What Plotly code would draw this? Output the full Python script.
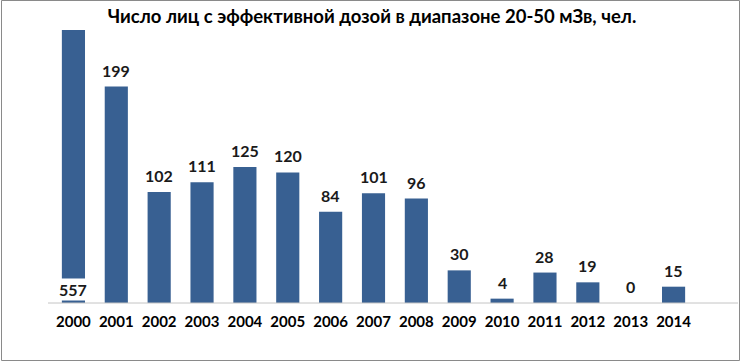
import plotly.graph_objects as go

years = ["2000", "2001", "2002", "2003", "2004", "2005", "2006", "2007", "2008",
         "2009", "2010", "2011", "2012", "2013", "2014"]
persons = [557, 199, 102, 111, 125, 120, 84, 101, 96, 30, 4, 28, 19, 0, 15]

title_text = "Число лиц с эффективной дозой в диапазоне 20-50 мЗв, чел."
y_max = 251

W, H = 741, 362
ml, mr, mt, mb = 52, 46, 30, 59
pw, ph = W - ml - mr, H - mt - mb

FONT = "Lato, Open Sans, sans-serif"
LABEL_FONT = dict(family=FONT, size=16, color="#1a1a1a")

fig = go.Figure()
fig.add_trace(go.Bar(
    x=years, y=persons,
    marker=dict(color="#386092", line=dict(width=0)),
    cliponaxis=True,
    hoverinfo="x+y",
))

# value labels
for i, v in enumerate(persons):
    if v > y_max:
        fig.add_annotation(x=i, y=0, xref="x", yref="y", text="<b>%d</b>" % v, showarrow=False,
                           yanchor="bottom", yshift=2, bgcolor="white",
                           font=LABEL_FONT, borderpad=1)
    else:
        fig.add_annotation(x=i, y=v, xref="x", yref="y", text="<b>%d</b>" % v, showarrow=False,
                           yanchor="bottom", yshift=5, font=LABEL_FONT)

# category axis baseline (extends beyond plot area like the original)
fig.add_shape(type="line", xref="paper", yref="paper",
              x0=(48 - ml) / pw, x1=(738 - ml) / pw, y0=0, y1=0,
              line=dict(color="#c4c4c4", width=1), layer="above")

# outer border
fig.add_shape(type="rect", xref="paper", yref="paper",
              x0=(-ml + 1.5) / pw, x1=(pw + mr - 1.5) / pw,
              y0=(-mb + 1.5) / ph, y1=(ph + mt - 0.5) / ph,
              line=dict(color="#8a8a8a", width=1), layer="above")

fig.update_layout(
    width=W, height=H,
    margin=dict(l=ml, r=mr, t=mt, b=mb),
    paper_bgcolor="white", plot_bgcolor="white",
    bargap=0.46,
    showlegend=False,
    title=dict(text="<b>" + title_text + "</b>", x=372 / W, xanchor="center",
               y=1 - 17 / H, yanchor="middle",
               font=dict(family=FONT, size=18.5, color="#000")),
    xaxis=dict(type="category", range=[-0.5, len(years) - 0.5],
               showline=False, ticks="",
               tickfont=dict(family=FONT, size=15, color="#000"),
               tickprefix="<b>", ticksuffix="</b>",
               ticklabelstandoff=8),
    yaxis=dict(range=[0, y_max], visible=False, showgrid=False),
)

fig.write_html("out.html", config={"displayModeBar": False},
               post_script="document.body.style.margin='0';document.body.style.overflow='hidden';")
